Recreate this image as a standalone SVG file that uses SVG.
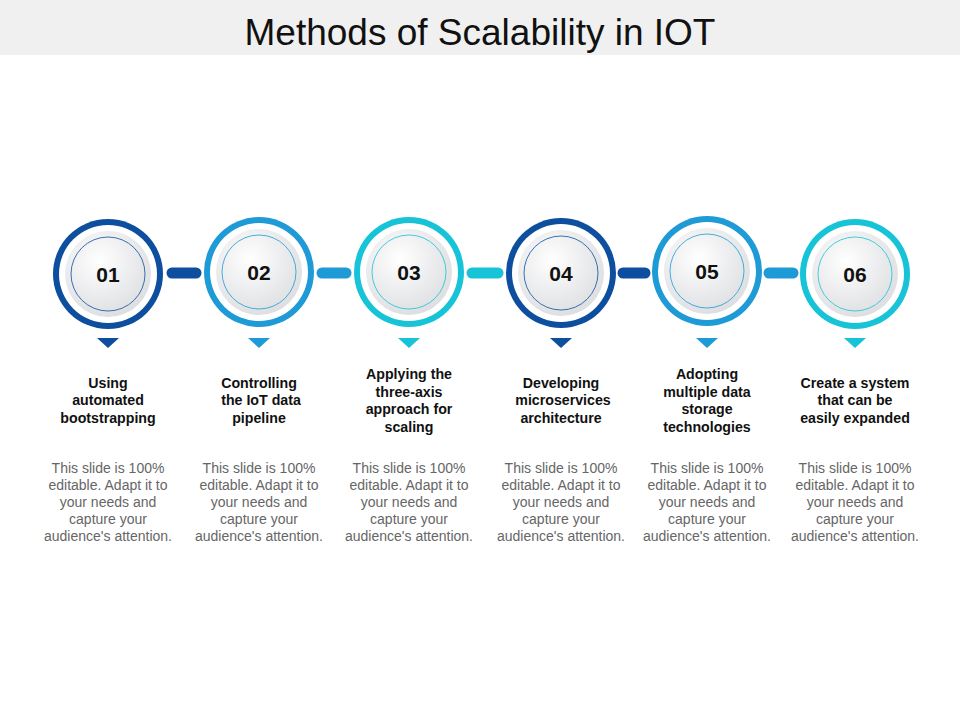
<svg xmlns="http://www.w3.org/2000/svg" width="960" height="720" viewBox="0 0 960 720">
<defs>
<radialGradient id="g" cx="0.4" cy="0.35" r="0.7"><stop offset="0" stop-color="#ffffff"/><stop offset="1" stop-color="#dcdde0"/></radialGradient>
<style>
.t{font-family:"Liberation Sans",Arial,sans-serif;}
.n{font-size:21px;font-weight:bold;fill:#111;text-anchor:middle}
.h{font-size:14.2px;font-weight:bold;fill:#111;text-anchor:middle}
.d{font-size:14px;fill:#666;text-anchor:middle}
.w{fill:#fff}
.c{fill:url(#g)}
.in{fill:none;stroke-width:0.8}
</style>
</defs>
<rect x="0" y="0" width="960" height="55" fill="#f0f0f0"/>
<text class="t" x="480" y="45" font-size="37" text-anchor="middle" fill="#111">Methods of Scalability in IOT</text>
<g id="connectors" stroke-width="11" stroke-linecap="round">
<line x1="172" y1="273" x2="196" y2="273" stroke="#0D4F9E"/>
<line x1="322" y1="273" x2="346" y2="273" stroke="#1E9AD6"/>
<line x1="472" y1="273" x2="498" y2="273" stroke="#17C3D6"/>
<line x1="623" y1="273" x2="645" y2="273" stroke="#0D4F9E"/>
<line x1="769" y1="273" x2="793" y2="273" stroke="#1E9AD6"/>
</g>
<g id="n1"><circle cx="108" cy="274" r="55" fill="#0D4F9E"/><circle cx="108" cy="274" r="49" class="w"/><circle cx="108" cy="274" r="43" class="c"/><circle cx="108" cy="274" r="37" class="in" stroke="#0D4F9E"/><text class="t n" x="108" y="282">01</text><polygon points="97,338 119,338 108,348" fill="#0D4F9E"/>
<text class="t h" x="108" y="388">Using</text><text class="t h" x="108" y="405">automated</text><text class="t h" x="108" y="423">bootstrapping</text>
<text class="t d" x="108" y="473">This slide is 100%</text><text class="t d" x="108" y="490">editable. Adapt it to</text><text class="t d" x="108" y="507">your needs and</text><text class="t d" x="108" y="524">capture your</text><text class="t d" x="108" y="541">audience's attention.</text></g>
<g id="n2"><circle cx="259" cy="272" r="55" fill="#1E9AD6"/><circle cx="259" cy="272" r="49" class="w"/><circle cx="259" cy="272" r="43" class="c"/><circle cx="259" cy="272" r="37" class="in" stroke="#1E9AD6"/><text class="t n" x="259" y="280">02</text><polygon points="248,338 270,338 259,348" fill="#1E9AD6"/>
<text class="t h" x="259" y="388">Controlling</text><text class="t h" x="261" y="405">the IoT data</text><text class="t h" x="259" y="423">pipeline</text>
<text class="t d" x="259" y="473">This slide is 100%</text><text class="t d" x="259" y="490">editable. Adapt it to</text><text class="t d" x="259" y="507">your needs and</text><text class="t d" x="259" y="524">capture your</text><text class="t d" x="259" y="541">audience's attention.</text></g>
<g id="n3"><circle cx="409" cy="272" r="55" fill="#17C3D6"/><circle cx="409" cy="272" r="49" class="w"/><circle cx="409" cy="272" r="43" class="c"/><circle cx="409" cy="272" r="37" class="in" stroke="#17C3D6"/><text class="t n" x="409" y="280">03</text><polygon points="398,338 420,338 409,348" fill="#17C3D6"/>
<text class="t h" x="409" y="379">Applying  the</text><text class="t h" x="409" y="397">three-axis</text><text class="t h" x="409" y="414">approach for</text><text class="t h" x="409" y="432">scaling</text>
<text class="t d" x="409" y="473">This slide is 100%</text><text class="t d" x="409" y="490">editable. Adapt it to</text><text class="t d" x="409" y="507">your needs and</text><text class="t d" x="409" y="524">capture your</text><text class="t d" x="409" y="541">audience's attention.</text></g>
<g id="n4"><circle cx="561" cy="273" r="55" fill="#0D4F9E"/><circle cx="561" cy="273" r="49" class="w"/><circle cx="561" cy="273" r="43" class="c"/><circle cx="561" cy="273" r="37" class="in" stroke="#0D4F9E"/><text class="t n" x="561" y="281">04</text><polygon points="550,338 572,338 561,348" fill="#0D4F9E"/>
<text class="t h" x="561" y="388">Developing</text><text class="t h" x="563" y="405">microservices</text><text class="t h" x="561" y="423">architecture</text>
<text class="t d" x="561" y="473">This slide is 100%</text><text class="t d" x="561" y="490">editable. Adapt it to</text><text class="t d" x="561" y="507">your needs and</text><text class="t d" x="561" y="524">capture your</text><text class="t d" x="561" y="541">audience's attention.</text></g>
<g id="n5"><circle cx="707" cy="271" r="55" fill="#1E9AD6"/><circle cx="707" cy="271" r="49" class="w"/><circle cx="707" cy="271" r="43" class="c"/><circle cx="707" cy="271" r="37" class="in" stroke="#1E9AD6"/><text class="t n" x="707" y="279">05</text><polygon points="696,338 718,338 707,348" fill="#1E9AD6"/>
<text class="t h" x="707" y="379">Adopting</text><text class="t h" x="707" y="397">multiple data</text><text class="t h" x="707" y="414">storage</text><text class="t h" x="707" y="432">technologies</text>
<text class="t d" x="707" y="473">This slide is 100%</text><text class="t d" x="707" y="490">editable. Adapt it to</text><text class="t d" x="707" y="507">your needs and</text><text class="t d" x="707" y="524">capture your</text><text class="t d" x="707" y="541">audience's attention.</text></g>
<g id="n6"><circle cx="855" cy="274" r="55" fill="#17C3D6"/><circle cx="855" cy="274" r="49" class="w"/><circle cx="855" cy="274" r="43" class="c"/><circle cx="855" cy="274" r="37" class="in" stroke="#17C3D6"/><text class="t n" x="855" y="282">06</text><polygon points="844,338 866,338 855,348" fill="#17C3D6"/>
<text class="t h" x="855" y="388">Create a system</text><text class="t h" x="855" y="405">that can be</text><text class="t h" x="855" y="423">easily expanded</text>
<text class="t d" x="855" y="473">This slide is 100%</text><text class="t d" x="855" y="490">editable. Adapt it to</text><text class="t d" x="855" y="507">your needs and</text><text class="t d" x="855" y="524">capture your</text><text class="t d" x="855" y="541">audience's attention.</text></g>
</svg>
